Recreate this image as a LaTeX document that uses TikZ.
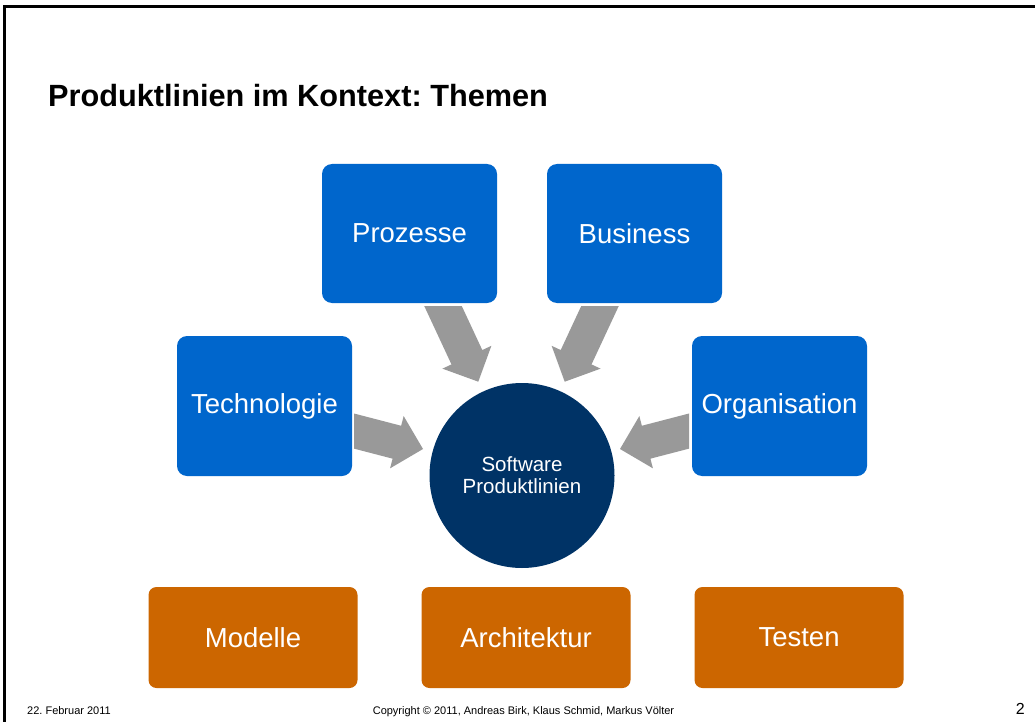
\documentclass[tikz,border=0pt]{standalone}
\usepackage{fontspec}
\setmainfont{Liberation Sans}
\usetikzlibrary{calc}
\definecolor{boxblue}{HTML}{0066CC}
\definecolor{hubnavy}{HTML}{003366}
\definecolor{boxorange}{HTML}{CC6600}
\definecolor{arrowgray}{HTML}{999999}
\frenchspacing

% block arrow: #1 name prefix, #2 tail coordinate, #3 tip coordinate
\newcommand\myblockarrow[3]{%
  \coordinate (#1n) at ($(#3)!27pt!(#2)$);
  \fill[arrowgray] ($(#2)!17pt!90:(#1n)$) -- ($(#1n)!17pt!-90:(#2)$)
    -- ($(#1n)!27pt!-90:(#2)$) -- (#3) -- ($(#1n)!27pt!90:(#2)$)
    -- ($(#1n)!17pt!90:(#2)$) -- ($(#2)!17pt!-90:(#1n)$) -- cycle;}

\tikzset{
  topic/.style={fill=boxblue, text=white, rounded corners=10pt,
    minimum width=175pt, minimum height=139pt, inner sep=0pt,
    font=\fontsize{27.5}{33}\selectfont},
  subtopic/.style={fill=boxorange, text=white, rounded corners=8pt,
    minimum width=209pt, minimum height=101pt, inner sep=0pt,
    font=\fontsize{27.5}{33}\selectfont},
  hub/.style={circle, fill=hubnavy, text=white, minimum size=185pt,
    inner sep=0pt, align=center, font=\fontsize{20.5}{22}\selectfont},
  footer/.style={inner sep=0pt, font=\fontsize{11}{13}\selectfont},
}

\begin{document}
\begin{tikzpicture}[x=1pt,y=-1pt]
  \fill[white] (0,0) rectangle (1035,722);
  \useasboundingbox (0,0) rectangle (1035,722);

  % slide frame
  \draw[line width=3pt] (4.5,722) -- (4.5,6.5) -- (1035,6.5);

  % title
  \node[anchor=base west, inner sep=0pt, font=\bfseries\fontsize{30.7}{36}\selectfont] (title) at (48,107) {Produktlinien im Kontext: Themen};

  % arrows (tails clipped at the box edges)
  \coordinate (tL) at (334.9,426.1);  \coordinate (hL) at (423,449);
  \coordinate (tR) at (708.1,426.1);  \coordinate (hR) at (620,449);
  \coordinate (tP) at (431.8,282);    \coordinate (hP) at (478.3,381.7);
  \coordinate (tB) at (611.2,282);    \coordinate (hB) at (564.7,381.7);
  \begin{scope}
    \clip (354,306) rectangle (689,600);
    \myblockarrow{aL}{tL}{hL}
    \myblockarrow{aR}{tR}{hR}
    \myblockarrow{aP}{tP}{hP}
    \myblockarrow{aB}{tB}{hB}
  \end{scope}

  % blue topics
  \node[topic] (proz) at (409.5,233.5) {Prozesse};
  \node[topic] (bus)  at (634.5,233.5) {Business};
  \node[topic, minimum height=140pt] (tech) at (264.5,406) {Technologie};
  \node[topic, minimum height=140pt] (org)  at (779.5,406) {Organisation};

  % hub
  \node[hub] (sp) at (522,475.5) {Software\\Produktlinien};

  % orange topics
  \node[subtopic] (mod)  at (253,637.5) {Modelle};
  \node[subtopic] (arch) at (526,637.5) {Architektur};
  \node[subtopic] (test) at (799,637.5) {Testen};

  % footer
  \node[footer, anchor=base west] (date) at (27,714) {22. Februar 2011};
  \node[footer, anchor=base] (copy) at (523.5,714) {Copyright © 2011, Andreas Birk, Klaus Schmid, Markus Völter};
  \node[inner sep=0pt, anchor=base east, font=\fontsize{16}{18}\selectfont] (page) at (1025,714) {2};
\end{tikzpicture}
\end{document}
